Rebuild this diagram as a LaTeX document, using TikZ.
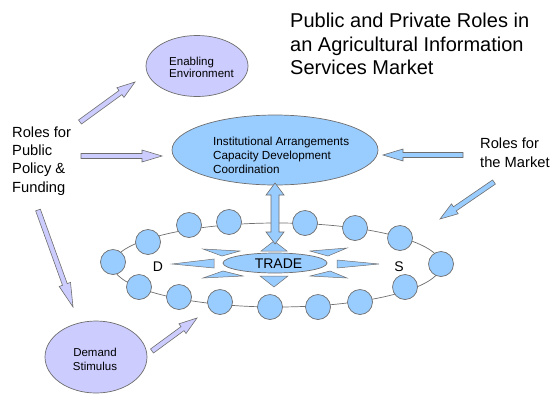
\documentclass[tikz,border=0pt]{standalone}
\usepackage{fontspec}
\setmainfont{Liberation Sans}
\usetikzlibrary{calc,shapes.geometric}

\definecolor{lav}{HTML}{CCCCFF}
\definecolor{sky}{HTML}{99CCFF}
\definecolor{edge}{HTML}{6E6E6E}

% block arrow: style, tail, tip, shaft half width, head half width, head length
\newcommand\blockarrow[6]{%
  \coordinate (ba-n) at ($(#3)!#6!(#2)$);
  \draw[#1] ($(#2)!#4!90:(#3)$) -- ($(ba-n)!#4!90:(#3)$) -- ($(ba-n)!#5!90:(#3)$)
    -- (#3) -- ($(ba-n)!#5!-90:(#3)$) -- ($(ba-n)!#4!-90:(#3)$)
    -- ($(#2)!#4!-90:(#3)$) -- cycle;
}
% double-headed block arrow: style, end a, end b, shaft half width, head half width, head length
\newcommand\twowayarrow[6]{%
  \coordinate (da-a) at ($(#2)!#6!(#3)$);
  \coordinate (da-b) at ($(#3)!#6!(#2)$);
  \draw[#1] (#2) -- ($(da-a)!#5!90:(#3)$) -- ($(da-a)!#4!90:(#3)$)
    -- ($(da-b)!#4!90:(#3)$) -- ($(da-b)!#5!90:(#3)$) -- (#3)
    -- ($(da-b)!#5!-90:(#3)$) -- ($(da-b)!#4!-90:(#3)$)
    -- ($(da-a)!#4!-90:(#3)$) -- ($(da-a)!#5!-90:(#3)$) -- cycle;
}

\tikzset{
  lavshape/.style={draw=edge, line width=0.7pt, fill=lav},
  skyshape/.style={draw=edge, line width=0.7pt, fill=sky},
  lavarrow/.style={draw=edge, line width=0.6pt, fill=lav, line join=miter},
  skyarrow/.style={draw=edge, line width=0.6pt, fill=sky, line join=miter},
  bubble/.style={circle, draw=edge, line width=0.7pt, fill=sky, minimum size=25pt, inner sep=0pt},
  spike/.style={draw=edge, line width=0.5pt, fill=sky, line join=miter},
  blob/.style={ellipse, inner sep=0pt},
  txt/.style={inner sep=0pt, text=black},
}

\begin{document}
\begin{tikzpicture}[x=1pt, y=-1pt]
\useasboundingbox (0,0) rectangle (553,394);

% title
\node[txt, anchor=west, align=left, font=\fontsize{20}{23.5}\selectfont] (title) at (290,44)
  {Public and Private Roles in\\an Agricultural Information\\Services Market};

% side labels
\node[txt, anchor=west, align=left, font=\fontsize{14.7}{18.2}\selectfont] (public) at (12,161)
  {Roles for\\Public\\Policy \&\\Funding};
\node[txt, anchor=west, align=left, font=\fontsize{14.7}{19}\selectfont] (market) at (480,152.5)
  {Roles for\\the Market};

% market ring with its participants
\node[blob, draw=edge, line width=0.7pt, minimum width=328pt, minimum height=84pt] (ring) at (277,265) {};
\foreach \i/\p in {1/{113,262}, 2/{148,242}, 3/{189,225}, 4/{229,222}, 5/{305,223},
                   6/{355,228}, 7/{400,238}, 8/{441,264}, 9/{405,287}, 10/{360,302},
                   11/{318,307}, 12/{270,307}, 13/{220,302}, 14/{179,297}, 15/{139,287}}
  \node[bubble] (p\i) at (\p) {};

\node[txt, font=\fontsize{14}{16}\selectfont] (dem) at (158,267) {D};
\node[txt, font=\fontsize{14}{16}\selectfont] (sup) at (399,267) {S};

% burst of spikes round the trade hub
\draw[spike] (172,264) -- (214,259) -- (214,268) -- cycle;
\draw[spike] (379,264) -- (337,260) -- (337,268) -- cycle;
\draw[spike] (203,249) -- (240,251) -- (222,256) -- cycle;
\draw[spike] (203,278) -- (223,271) -- (243,276) -- cycle;
\draw[spike] (347,248) -- (310,251) -- (328,256) -- cycle;
\draw[spike] (347,278) -- (330,271) -- (310,276) -- cycle;
\draw[spike] (274,241) -- (261,251) -- (287,251) -- cycle;
\draw[spike] (274,287) -- (260,276) -- (288,276) -- cycle;

\node[blob, skyshape, minimum width=104pt, minimum height=20pt] (trade) at (275,263) {};
\node[txt, font=\fontsize{14}{16}\selectfont] (tradetxt) at (278.5,263.5) {TRADE};

% central institutions
\node[blob, skyshape, minimum width=206pt, minimum height=70pt] (inst) at (275,150) {};
\node[txt, anchor=west, align=left, font=\fontsize{11.7}{13.8}\selectfont] (insttxt) at (213,155.3)
  {Institutional Arrangements\\Capacity Development\\Coordination};

% enabling environment
\node[blob, lavshape, minimum width=102pt, minimum height=61pt] (env) at (197,66) {};
\node[txt, anchor=west, align=left, font=\fontsize{11.5}{12.6}\selectfont] (envtxt) at (169,67.5)
  {Enabling\\Environment};

% demand stimulus
\node[blob, lavshape, minimum width=102pt, minimum height=72pt] (stim) at (96,357) {};
\node[txt, align=center, font=\fontsize{11.5}{14.3}\selectfont] (stimtxt) at (95,359.5)
  {Demand\\Stimulus};

% arrow ends
\coordinate (a1s) at (80,122);  \coordinate (a1e) at (135,82);
\coordinate (a2s) at (81,156);  \coordinate (a2e) at (162,156);
\coordinate (a3s) at (38,210);  \coordinate (a3e) at (73,307);
\coordinate (a4s) at (152,351); \coordinate (a4e) at (197,318);
\coordinate (a5s) at (463,155); \coordinate (a5e) at (383,155);
\coordinate (a6s) at (494,182); \coordinate (a6e) at (440,219);
\coordinate (dtop) at (275,183); \coordinate (dbot) at (275,244);

\blockarrow{lavarrow}{a1s}{a1e}{2.5pt}{6pt}{18pt}
\blockarrow{lavarrow}{a2s}{a2e}{2.5pt}{6pt}{20pt}
\blockarrow{lavarrow}{a3s}{a3e}{2.5pt}{6pt}{24pt}
\blockarrow{lavarrow}{a4s}{a4e}{2.5pt}{6pt}{18pt}
\blockarrow{skyarrow}{a5s}{a5e}{2.5pt}{6pt}{20pt}
\blockarrow{skyarrow}{a6s}{a6e}{2.5pt}{6pt}{18pt}
\twowayarrow{skyarrow}{dtop}{dbot}{4pt}{9pt}{12pt}
\end{tikzpicture}
\end{document}
